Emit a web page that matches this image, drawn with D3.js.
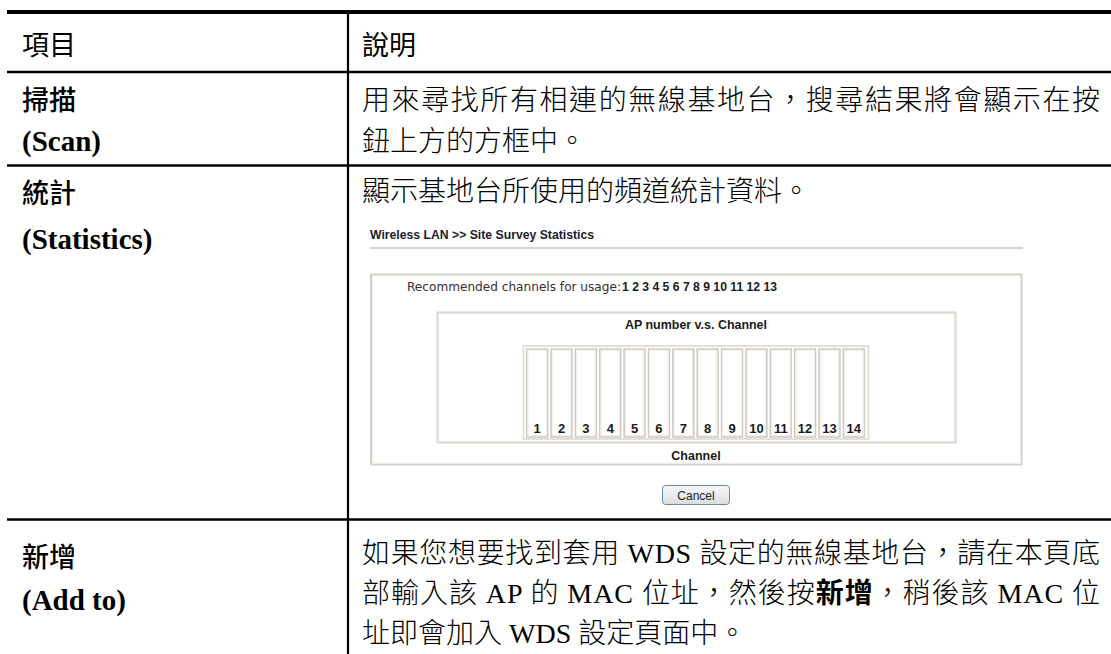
<!DOCTYPE html>
<html>
<head>
<meta charset="utf-8">
<script src="https://cdn.jsdelivr.net/npm/d3@7"></script>
<style>
  html, body { margin: 0; padding: 0; background: #fff; }
  svg { display: block; }
</style>
</head>
<body>
<div id="chart"></div>
<script>
// ---------------- data ----------------
const headers = ["項目", "說明"];
const rowItems = ["掃描", "統計", "新增"];
const rowItemsEn = ["(Scan)", "(Statistics)", "(Add to)"];
const pageTitle = "Wireless LAN >> Site Survey Statistics";
const recommendLabel = "Recommended channels for usage:";
const recommendedChannels = [1, 2, 3, 4, 5, 6, 7, 8, 9, 10, 11, 12, 13];
const chartTitle = "AP number v.s. Channel";
const xAxisTitle = "Channel";
const channels = [1, 2, 3, 4, 5, 6, 7, 8, 9, 10, 11, 12, 13, 14];
const apCounts = [0, 0, 0, 0, 0, 0, 0, 0, 0, 0, 0, 0, 0, 0];
const buttonLabel = "Cancel";
// description lines: segments [text, kind]  kind: c = CJK, l = latin serif, b = bold CJK
const descScan = [
  [["用來尋找所有相連的無線基地台，搜尋結果將會顯示在按", "c"]],
  [["鈕上方的方框中。", "c"]]
];
const descStats = [
  [["顯示基地台所使用的頻道統計資料。", "c"]]
];
const descAdd = [
  [["如果您想要找到套用", "c"], [" WDS ", "l"], ["設定的無線基地台，請在本頁底", "c"]],
  [["部輸入該", "c"], [" AP ", "l"], ["的", "c"], [" MAC ", "l"], ["位址，然後按", "c"], ["新增", "b"], ["，稍後該", "c"], [" MAC ", "l"], ["位", "c"]],
  [["址即會加入", "c"], [" WDS ", "l"], ["設定頁面中。", "c"]]
];

// ---------------- layout ----------------
const W = 1111, H = 654;
const svg = d3.select("#chart").append("svg").attr("width", W).attr("height", H);

const CJK = "'Noto Sans CJK TC', 'Noto Sans CJK SC', sans-serif";
const SERIF = "'Liberation Serif', 'DejaVu Serif', serif";
const SANS = "'Liberation Sans', Arial, sans-serif";
const VERD = "'DejaVu Sans', Verdana, sans-serif";

const colX = 348, leftX = 7;
const hLines = [{y: 12, w: 4}, {y: 72, w: 2.5}, {y: 165.5, w: 2.5}, {y: 519.5, w: 2.5}];

// table rules
svg.selectAll("line.h").data(hLines).join("line").attr("class", "h")
  .attr("x1", leftX).attr("x2", W).attr("y1", d => d.y).attr("y2", d => d.y)
  .attr("stroke", "#000").attr("stroke-width", d => d.w);
svg.append("line").attr("x1", colX).attr("x2", colX).attr("y1", 10).attr("y2", H)
  .attr("stroke", "#000").attr("stroke-width", 2.2);

// headers
svg.selectAll("text.hdr").data(headers).join("text").attr("class", "hdr")
  .attr("x", (d, i) => i === 0 ? 22 : 362).attr("y", 55)
  .attr("font-family", CJK).attr("font-size", 27).attr("font-weight", 400)
  .text(d => d);

// left column items
const itemY = [110, 203, 567];
const itemEnY = [151, 249, 610];
svg.selectAll("text.item").data(rowItems).join("text").attr("class", "item")
  .attr("x", 22).attr("y", (d, i) => itemY[i])
  .attr("font-family", CJK).attr("font-size", 27).attr("font-weight", 500)
  .text(d => d);
svg.selectAll("text.itemEn").data(rowItemsEn).join("text").attr("class", "itemEn")
  .attr("x", 22).attr("y", (d, i) => itemEnY[i])
  .attr("font-family", SERIF).attr("font-size", 29).attr("font-weight", 700)
  .text(d => d);

// description paragraphs
function drawLines(lines, baseYs, justify) {
  lines.forEach((segs, li) => {
    const t = svg.append("text").attr("x", 362).attr("y", baseYs[li])
      .attr("font-size", 28).attr("fill", "#000");
    segs.forEach(([s, k]) => {
      t.append("tspan")
        .attr("font-family", k === "l" ? SERIF : CJK)
        .attr("font-weight", k === "b" ? 700 : 300)
        .style("white-space", "pre")
        .text(s);
    });
    if (justify[li]) t.attr("textLength", 1100 - 362).attr("lengthAdjust", "spacing");
  });
}
drawLines(descScan, [110, 151], [true, false]);
drawLines(descStats, [201], [false]);
drawLines(descAdd, [563, 603, 643], [true, true, false]);

// ---------------- embedded screenshot ----------------
const shot = svg.append("g");
shot.append("text").attr("x", 370).attr("y", 239)
  .attr("font-family", SANS).attr("font-size", 12.5).attr("font-weight", 700)
  .attr("fill", "#1c1c30").attr("textLength", 224).attr("lengthAdjust", "spacingAndGlyphs")
  .text(pageTitle);
shot.append("line").attr("x1", 370).attr("x2", 1023).attr("y1", 248).attr("y2", 248)
  .attr("stroke", "#c8c6c0").attr("stroke-width", 1.5);

// outer frame
shot.append("rect").attr("x", 371).attr("y", 274.5).attr("width", 650.5).attr("height", 190)
  .attr("fill", "#fff").attr("stroke", "#d4d0c8").attr("stroke-width", 2);
shot.append("rect").attr("x", 372.5).attr("y", 276).attr("width", 647.5).attr("height", 187)
  .attr("fill", "none").attr("stroke", "#f2f1ec").attr("stroke-width", 1);

// recommended channels
shot.append("text").attr("x", 407).attr("y", 290.5)
  .attr("font-family", VERD).attr("font-size", 12).attr("fill", "#3a2e30")
  .attr("textLength", 214).attr("lengthAdjust", "spacingAndGlyphs")
  .text(recommendLabel);
shot.append("text").attr("x", 622).attr("y", 290.5)
  .attr("font-family", SANS).attr("font-size", 12.5).attr("font-weight", 700)
  .attr("fill", "#1a1a1a").attr("textLength", 155).attr("lengthAdjust", "spacingAndGlyphs")
  .text(recommendedChannels.join(" "));

// chart frame
shot.append("rect").attr("x", 437.5).attr("y", 312.5).attr("width", 518).attr("height", 130)
  .attr("fill", "#fff").attr("stroke", "#d8d5cd").attr("stroke-width", 2);
shot.append("rect").attr("x", 439).attr("y", 314).attr("width", 515).attr("height", 127)
  .attr("fill", "none").attr("stroke", "#f3f2ee").attr("stroke-width", 1);

shot.append("text").attr("x", 696).attr("y", 328.5).attr("text-anchor", "middle")
  .attr("font-family", SANS).attr("font-size", 12.5).attr("font-weight", 700).attr("fill", "#1a1a1a")
  .attr("textLength", 142).attr("lengthAdjust", "spacingAndGlyphs")
  .text(chartTitle);
shot.append("text").attr("x", 696).attr("y", 459.5).attr("text-anchor", "middle")
  .attr("font-family", SANS).attr("font-size", 12.5).attr("font-weight", 700).attr("fill", "#1a1a1a")
  .text(xAxisTitle);

// scales
const x = d3.scaleBand().domain(channels).range([525, 866]).paddingInner(0.1).paddingOuter(0.05);
const yTop = 349, yBot = 437;
const y = d3.scaleLinear().domain([0, Math.max(1, d3.max(apCounts))]).range([yBot, yTop]);

// cell container
shot.append("rect").attr("x", 523.5).attr("y", 346).attr("width", 345).attr("height", 93)
  .attr("fill", "#fff").attr("stroke", "#e2e0d8").attr("stroke-width", 2);

// channel cells
shot.selectAll("rect.cell").data(channels).join("rect").attr("class", "cell")
  .attr("x", d => x(d) + 0.5).attr("y", yTop)
  .attr("width", x.bandwidth() - 1).attr("height", yBot - yTop)
  .attr("fill", "#fff").attr("stroke", "#cdc9c1").attr("stroke-width", 1.5);
shot.selectAll("rect.cellIn").data(channels).join("rect").attr("class", "cellIn")
  .attr("x", d => x(d) + 2).attr("y", yTop + 1.5)
  .attr("width", x.bandwidth() - 4).attr("height", yBot - yTop - 3)
  .attr("fill", "none").attr("stroke", "#f1f0ea").attr("stroke-width", 1);

// bars (AP counts)
shot.selectAll("rect.bar").data(apCounts).join("rect").attr("class", "bar")
  .attr("x", (d, i) => x(channels[i]) + 3).attr("width", x.bandwidth() - 6)
  .attr("y", d => y(d)).attr("height", d => yBot - y(d))
  .attr("fill", "#4a6ea9");

// channel labels
shot.selectAll("text.ch").data(channels).join("text").attr("class", "ch")
  .attr("x", d => x(d) + x.bandwidth() / 2).attr("y", 432.5).attr("text-anchor", "middle")
  .attr("font-family", SANS).attr("font-size", 13).attr("font-weight", 700).attr("fill", "#1a1a1a")
  .text(d => d);

// cancel button
const defs = svg.append("defs");
const grad = defs.append("linearGradient").attr("id", "btn").attr("x1", 0).attr("x2", 0).attr("y1", 0).attr("y2", 1);
grad.append("stop").attr("offset", "0%").attr("stop-color", "#f6f6f6");
grad.append("stop").attr("offset", "50%").attr("stop-color", "#ececec");
grad.append("stop").attr("offset", "100%").attr("stop-color", "#dadada");
shot.append("rect").attr("x", 662.5).attr("y", 485.5).attr("width", 67).attr("height", 19)
  .attr("rx", 3).attr("fill", "url(#btn)").attr("stroke", "#6d86a3").attr("stroke-width", 1);
shot.append("text").attr("x", 696).attr("y", 499.5).attr("text-anchor", "middle")
  .attr("font-family", SANS).attr("font-size", 12).attr("fill", "#222")
  .text(buttonLabel);
</script>
</body>
</html>
